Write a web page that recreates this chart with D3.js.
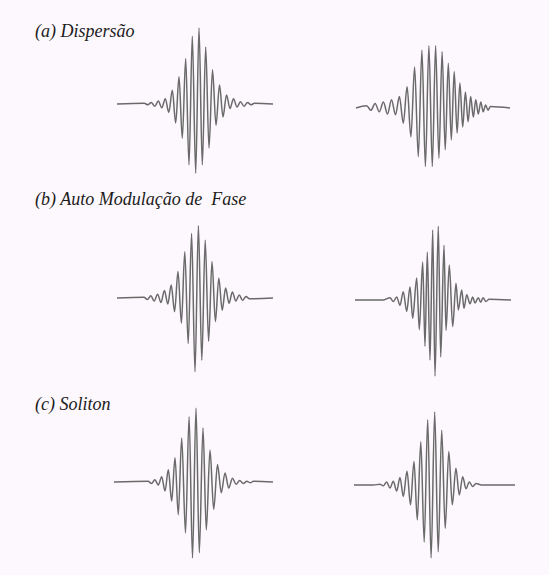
<!DOCTYPE html>
<html>
<head>
<meta charset="utf-8">
<script src="https://cdn.jsdelivr.net/npm/d3@7"></script>
<style>
  html, body { margin: 0; padding: 0; background: #fdf8fd; }
  svg { display: block; }
  .title { font-family: "Liberation Serif", "DejaVu Serif", "Times New Roman", serif; font-style: italic; }
</style>
</head>
<body>
<svg id="chart" width="549" height="575"></svg>
<script>
// Section titles
const titles = ["(a) Dispersão", "(b) Auto Modulação de  Fase", "(c) Soliton"];

// Optical field extrema: [time (ps), normalised amplitude]
const dispersionIn = [
  [-7.8, 0], [-5.07, 0.01], [-4.72, -0.01], [-4.37, 0.02], [-4.02, -0.03], [-3.67, 0.04],
  [-3.32, -0.05], [-2.97, 0.07], [-2.62, -0.11], [-2.27, 0.18], [-1.93, -0.25], [-1.6, 0.36],
  [-1.27, -0.45], [-0.93, 0.60], [-0.6, -0.80], [-0.27, 0.89], [0.07, -0.91], [0.4, 1.0],
  [0.73, -0.80], [1.07, 0.75], [1.4, -0.58], [1.75, 0.45], [2.1, -0.28], [2.45, 0.25],
  [2.8, -0.17], [3.15, 0.12], [3.5, -0.06], [3.85, 0.07], [4.2, -0.04], [4.55, 0.03],
  [4.9, -0.03], [5.25, 0.02], [5.6, -0.01], [5.95, 0.01], [7.8, 0]
];
const dispersionOut = [
  [-7.7, 0], [-6.63, 0.03], [-6.21, -0.03], [-5.79, 0.06], [-5.37, -0.05], [-4.96, 0.08],
  [-4.55, -0.08], [-4.15, 0.11], [-3.75, -0.09], [-3.36, 0.15], [-2.97, -0.2], [-2.59, 0.28],
  [-2.21, -0.38], [-1.84, 0.54], [-1.47, -0.64], [-1.11, 0.76], [-0.76, -0.77], [-0.41, 0.82],
  [-0.07, -0.77], [0.26, 0.82], [0.59, -0.66], [0.91, 0.74], [1.22, -0.55], [1.53, 0.59],
  [1.83, -0.42], [2.12, 0.48], [2.41, -0.33], [2.69, 0.33], [2.97, -0.25], [3.24, 0.21],
  [3.51, -0.18], [3.77, 0.15], [4.03, -0.12], [4.28, 0.11], [4.53, -0.08], [4.78, 0.08],
  [5.02, -0.05], [5.26, 0.04], [5.5, -0.03], [5.74, 0.02], [7.7, 0]
];
const spmIn = [
  [-7.8, 0], [-5.1, 0.01], [-4.76, -0.02], [-4.42, 0.03], [-4.08, -0.04], [-3.74, 0.05],
  [-3.4, -0.06], [-3.06, 0.1], [-2.72, -0.08], [-2.38, 0.17], [-2.04, -0.18], [-1.7, 0.35],
  [-1.36, -0.33], [-1.02, 0.61], [-0.68, -0.6], [-0.34, 0.85], [0.0, -0.97], [0.34, 0.95],
  [0.68, -0.82], [1.02, 0.76], [1.36, -0.57], [1.7, 0.48], [2.04, -0.31], [2.38, 0.26],
  [2.72, -0.16], [3.06, 0.13], [3.4, -0.07], [3.74, 0.08], [4.08, -0.04], [4.42, 0.04],
  [4.76, -0.03], [5.1, 0.02], [5.44, -0.01], [7.8, 0]
];
const spmOut = [
  [-7.8, 0], [-5.0, 0], [-4.3, 0.03], [-3.97, -0.02], [-3.63, 0.04], [-3.3, -0.07],
  [-2.97, 0.11], [-2.63, -0.15], [-2.3, 0.17], [-2.03, -0.24], [-1.63, 0.29], [-1.37, -0.39],
  [-1.03, 0.5], [-0.8, -0.61], [-0.57, 0.63], [-0.3, -0.79], [-0.03, 0.92], [0.2, -1.0],
  [0.53, 0.97], [0.77, -0.75], [1.1, 0.72], [1.3, -0.4], [1.63, 0.46], [1.97, -0.35],
  [2.3, 0.22], [2.53, -0.13], [2.87, 0.13], [3.1, -0.11], [3.37, 0.07], [3.7, -0.05],
  [3.97, 0.04], [4.2, -0.04], [4.53, 0.03], [4.77, -0.03], [5.0, 0.03], [5.3, -0.02],
  [5.6, 0.01], [7.8, 0]
];
const solitonIn = [
  [-7.95, 0], [-4.54, 0.01], [-4.2, -0.02], [-3.86, 0.03], [-3.52, -0.04], [-3.18, 0.07],
  [-2.85, -0.12], [-2.52, 0.16], [-2.18, -0.25], [-1.85, 0.32], [-1.52, -0.43], [-1.18, 0.58],
  [-0.8, -0.67], [-0.44, 0.86], [-0.1, -1.0], [0.25, 0.97], [0.58, -0.93], [0.95, 0.71],
  [1.28, -0.63], [1.65, 0.42], [2.02, -0.36], [2.4, 0.23], [2.78, -0.14], [3.15, 0.12],
  [3.52, -0.08], [3.9, 0.05], [4.26, -0.03], [4.62, 0.02], [4.98, -0.02], [5.34, 0.01],
  [5.68, -0.01], [6.0, 0.01], [7.95, 0]
];
const solitonOut = [
  [-8.05, 0], [-6.1, 0], [-5.45, 0.01], [-5.12, -0.01], [-4.78, 0.04], [-4.45, -0.04],
  [-4.12, 0.05], [-3.78, -0.08], [-3.45, 0.1], [-3.12, -0.15], [-2.75, 0.18], [-2.4, -0.26],
  [-2.05, 0.31], [-1.72, -0.46], [-1.37, 0.57], [-1.03, -0.75], [-0.68, 0.86], [-0.34, -0.96],
  [0.02, 0.96], [0.37, -0.88], [0.72, 0.72], [1.07, -0.57], [1.43, 0.44], [1.78, -0.26],
  [2.14, 0.22], [2.48, -0.13], [2.82, 0.11], [3.15, -0.05], [3.48, 0.04], [3.82, -0.02],
  [4.15, 0.02], [4.7, 0], [8.05, 0]
];

const timeDomain = [-8, 8];
const ampDomain = [-1, 1];

// Placement of each section: title baseline, and centre/baseline of each pulse
const rows = [
  { title: titles[0], ty: 37,  pulses: [ { data: dispersionIn, cx: 195,   base: 104 }, { data: dispersionOut, cx: 433,   base: 108 } ] },
  { title: titles[1], ty: 205, pulses: [ { data: spmIn,        cx: 195,   base: 298 }, { data: spmOut,        cx: 433,   base: 300 } ] },
  { title: titles[2], ty: 410, pulses: [ { data: solitonIn,    cx: 193.5, base: 482 }, { data: solitonOut,    cx: 434.5, base: 485 } ] }
];

const halfWidth = 80;   // px for half the time window
const ampPx = 76;       // px for unit amplitude

const svg = d3.select("#chart");
svg.append("rect").attr("width", 549).attr("height", 575).attr("fill", "#fdf8fd");

rows.forEach(row => {
  svg.append("text")
    .attr("class", "title")
    .attr("x", 35)
    .attr("y", row.ty)
    .attr("font-size", 18)
    .attr("fill", "#1c1c1c")
    .style("white-space", "pre")
    .text(row.title);

  row.pulses.forEach(p => {
    const x = d3.scaleLinear().domain(timeDomain).range([p.cx - halfWidth, p.cx + halfWidth]);
    const y = d3.scaleLinear().domain(ampDomain).range([p.base + ampPx, p.base - ampPx]);
    const line = d3.line()
      .x(d => x(d[0]))
      .y(d => y(d[1]))
      .curve(d3.curveMonotoneX);
    svg.append("path")
      .datum(p.data)
      .attr("d", line)
      .attr("fill", "none")
      .attr("stroke", "#6a6a6a")
      .attr("stroke-width", 1.5)
      .attr("stroke-linejoin", "round");
  });
});
</script>
</body>
</html>
